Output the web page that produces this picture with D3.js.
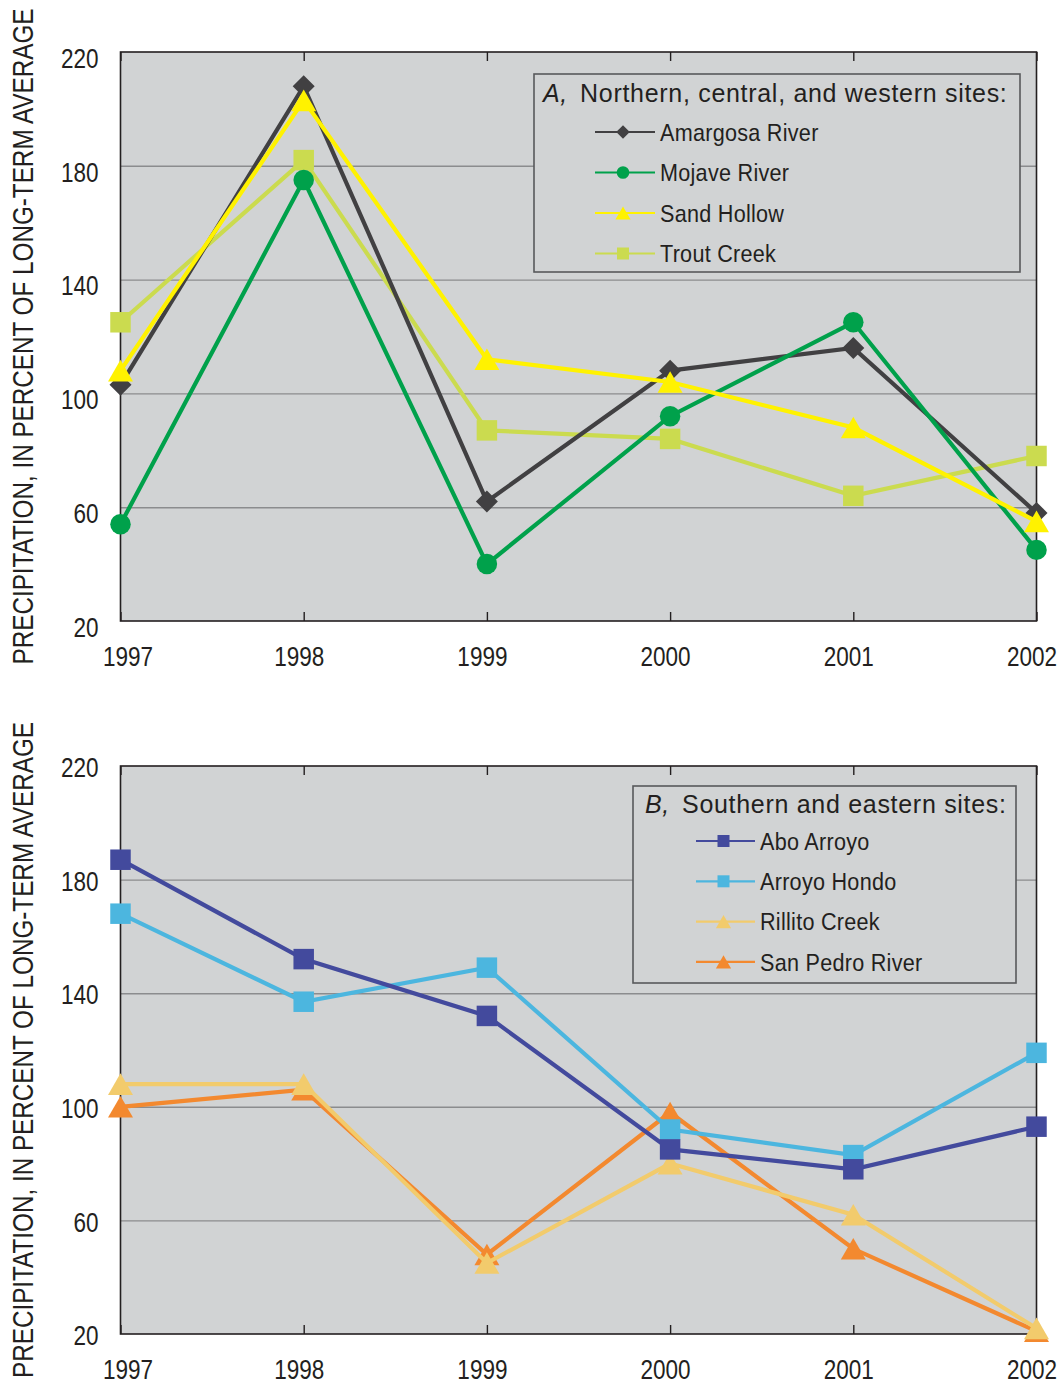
<!DOCTYPE html>
<html><head><meta charset="utf-8">
<script src="https://cdn.jsdelivr.net/npm/d3@7"></script>
<style>
body{margin:0;background:#fff;}
svg{display:block;font-family:"Liberation Sans",Arial,sans-serif;}
</style></head><body>
<svg id="chart" width="1061" height="1384"></svg>
<script>
// Years on the x axis and value ticks on the y axis
const years = [1997, 1998, 1999, 2000, 2001, 2002];
const yTicks = [20, 60, 100, 140, 180, 220];

// A: northern, central, and western sites (percent of long-term average)
const amargosaRiver = [103, 208, 62, 108, 116, 58];
const mojaveRiver   = [54, 175, 40, 92, 125, 45];
const sandHollow    = [108, 203, 112, 104, 88, 55];
const troutCreek    = [125, 182, 87, 84, 64, 78];

// B: southern and eastern sites
const aboArroyo     = [187, 152, 132, 85, 78, 93];
const arroyoHondo   = [168, 137, 149, 92, 83, 119];
const rillitoCreek  = [108, 108, 45, 80, 62, 22];
const sanPedroRiver = [100, 106, 48, 98, 50, 21];

const namesA = ["Amargosa River", "Mojave River", "Sand Hollow", "Trout Creek"];
const namesB = ["Abo Arroyo", "Arroyo Hondo", "Rillito Creek", "San Pedro River"];
const valuesA = [amargosaRiver, mojaveRiver, sandHollow, troutCreek];
const valuesB = [aboArroyo, arroyoHondo, rillitoCreek, sanPedroRiver];

// Marker shapes
const diamondType = {draw(ctx, size) {
  const r = Math.sqrt(size / 2);
  ctx.moveTo(0, -r); ctx.lineTo(r, 0); ctx.lineTo(0, r); ctx.lineTo(-r, 0); ctx.closePath();
}};
const triangleType = {draw(ctx, size) {
  const w = Math.sqrt(size * 4 / Math.sqrt(3)), h = w * Math.sqrt(3) / 2;
  ctx.moveTo(0, -h / 2); ctx.lineTo(w / 2, h / 2); ctx.lineTo(-w / 2, h / 2); ctx.closePath();
}};
const shapes = {
  diamond:  {type: diamondType,      size: 242, legend: 92},
  circle:   {type: d3.symbolCircle,  size: 330, legend: 125},
  square:   {type: d3.symbolSquare,  size: 420, legend: 144},
  triangle: {type: triangleType,     size: 270, legend: 100}
};

const seriesStyle = {
  "Amargosa River":  {color: "#414042", shape: "diamond"},
  "Mojave River":    {color: "#00a14b", shape: "circle"},
  "Sand Hollow":     {color: "#fff200", shape: "triangle"},
  "Trout Creek":     {color: "#cbdb4f", shape: "square"},
  "Abo Arroyo":      {color: "#434a9d", shape: "square"},
  "Arroyo Hondo":    {color: "#4cb6df", shape: "square"},
  "Rillito Creek":   {color: "#f2cb6c", shape: "triangle"},
  "San Pedro River": {color: "#f3892f", shape: "triangle"}
};

// Narrow the glyphs horizontally around each text's anchor point
function condense(sel, s, shiftY = 0) {
  sel.each(function () {
    const t = d3.select(this);
    const tx = +t.attr("x") || 0, ty = (+t.attr("y") || 0) + shiftY;
    t.attr("x", null).attr("y", null)
      .attr("transform", `translate(${tx},${ty}) scale(${s},1)`);
  });
}

const ink = "#231f20";
const svg = d3.select("#chart");
const left = 120.5, right = 1036.5;
const x = d3.scaleLinear().domain([years[0], years[years.length - 1]]).range([left, right]);

const panels = [
  {top: 52, bottom: 621, letter: "A,", title: "Northern, central, and western sites:",
   names: namesA, values: valuesA, drawOrder: [3, 0, 1, 2],
   legend: {x: 534, y: 74, w: 486, h: 198, titleX: 543, titleY: 102, lineX0: 595, lineX1: 655, textX: 660, rowY0: 132, rowStep: 40.5},
   labelShift: 5},
  {top: 766, bottom: 1334, letter: "B,", title: "Southern and eastern sites:",
   names: namesB, values: valuesB, drawOrder: [3, 2, 1, 0],
   legend: {x: 633, y: 786, w: 383, h: 197, titleX: 645, titleY: 813, lineX0: 696, lineX1: 755, textX: 760, rowY0: 841, rowStep: 40.3},
   labelShift: 0.5}
];

panels.forEach(p => {
  const y = d3.scaleLinear().domain([yTicks[0], yTicks[yTicks.length - 1]]).range([p.bottom, p.top]);
  const g = svg.append("g");

  // plot background
  g.append("rect").attr("x", left).attr("y", p.top)
    .attr("width", right - left).attr("height", p.bottom - p.top).attr("fill", "#d1d3d4");

  // horizontal grid
  g.append("g").attr("transform", `translate(${left},0)`)
    .call(d3.axisLeft(y).tickValues(yTicks.slice(1, -1)).tickSize(-(right - left)).tickFormat(""))
    .call(a => a.select(".domain").remove())
    .call(a => a.selectAll("line").attr("stroke", "#8b8c8e").attr("stroke-width", 1.4));

  // y labels
  g.append("g").attr("transform", `translate(${left},0)`)
    .call(d3.axisLeft(y).tickValues(yTicks).tickSize(0).tickPadding(22))
    .call(a => a.select(".domain").remove())
    .call(a => a.selectAll("text").attr("font-size", 28.5).attr("fill", ink)
      .attr("font-family", null).attr("dy", "0.36em")
      .call(condense, 0.79, p.labelShift));

  // x axis: inward ticks on bottom and top
  g.append("g").attr("transform", `translate(0,${p.bottom})`)
    .call(d3.axisBottom(x).tickValues(years).tickFormat(d3.format("d")).tickSize(-9).tickPadding(25))
    .call(a => a.select(".domain").remove())
    .call(a => a.selectAll("line").attr("stroke", ink).attr("stroke-width", 1.4))
    .call(a => a.selectAll("text").attr("font-size", 28.5).attr("fill", ink).attr("font-family", null)
      .attr("x", (d, i) => i === 0 ? 7 : -5)
      .call(condense, 0.79));

  g.append("g").attr("transform", `translate(0,${p.top})`)
    .call(d3.axisTop(x).tickValues(years).tickFormat("").tickSize(-9))
    .call(a => a.select(".domain").remove())
    .call(a => a.selectAll("line").attr("stroke", ink).attr("stroke-width", 1.4));

  // frame
  g.append("rect").attr("x", left).attr("y", p.top)
    .attr("width", right - left).attr("height", p.bottom - p.top)
    .attr("fill", "none").attr("stroke", ink).attr("stroke-width", 1.6);

  // axis title
  g.append("text")
    .attr("transform", `translate(33,${(p.top + p.bottom) / 2}) rotate(-90)`)
    .attr("text-anchor", "middle").attr("font-size", 29).attr("fill", ink)
    .attr("textLength", 656).attr("lengthAdjust", "spacingAndGlyphs")
    .text("PRECIPITATION, IN PERCENT OF LONG-TERM AVERAGE");

  // legend
  const L = p.legend;
  const lg = g.append("g");
  lg.append("rect").attr("x", L.x).attr("y", L.y).attr("width", L.w).attr("height", L.h)
    .attr("fill", "#d1d3d4").attr("stroke", "#58595b").attr("stroke-width", 1.6);
  const t = lg.append("text").attr("x", L.titleX).attr("y", L.titleY)
    .attr("font-size", 25).attr("fill", ink).attr("letter-spacing", 0.7);
  t.append("tspan").attr("font-style", "italic").text(p.letter);
  t.append("tspan").attr("dx", 12).text(p.title);

  p.names.forEach((name, i) => {
    const st = seriesStyle[name], sh = shapes[st.shape];
    const ry = L.rowY0 + i * L.rowStep;
    lg.append("line").attr("x1", L.lineX0).attr("x2", L.lineX1).attr("y1", ry).attr("y2", ry)
      .attr("stroke", st.color).attr("stroke-width", 2.2);
    lg.append("path").attr("transform", `translate(${(L.lineX0 + L.lineX1) / 2 - 2},${ry})`)
      .attr("d", d3.symbol(sh.type, sh.legend)()).attr("fill", st.color);
    lg.append("text").attr("x", L.textX).attr("y", ry).attr("dy", "0.36em")
      .attr("font-size", 24).attr("letter-spacing", 0.3).attr("fill", ink).text(name)
      .call(condense, 0.9);
  });

  // series lines and markers
  const line = d3.line().x((d, i) => x(years[i])).y(d => y(d));
  p.drawOrder.forEach(k => {
    const name = p.names[k], vals = p.values[k];
    const st = seriesStyle[name], sh = shapes[st.shape];
    const sg = g.append("g");
    sg.append("path").datum(vals).attr("d", line).attr("fill", "none")
      .attr("stroke", st.color).attr("stroke-width", 4.2).attr("stroke-linejoin", "miter");
    sg.selectAll("path.m").data(vals).join("path").attr("class", "m")
      .attr("transform", (d, i) => `translate(${x(years[i])},${y(d)})`)
      .attr("d", d3.symbol(sh.type, sh.size)()).attr("fill", st.color);
  });
});
</script>
</body></html>
